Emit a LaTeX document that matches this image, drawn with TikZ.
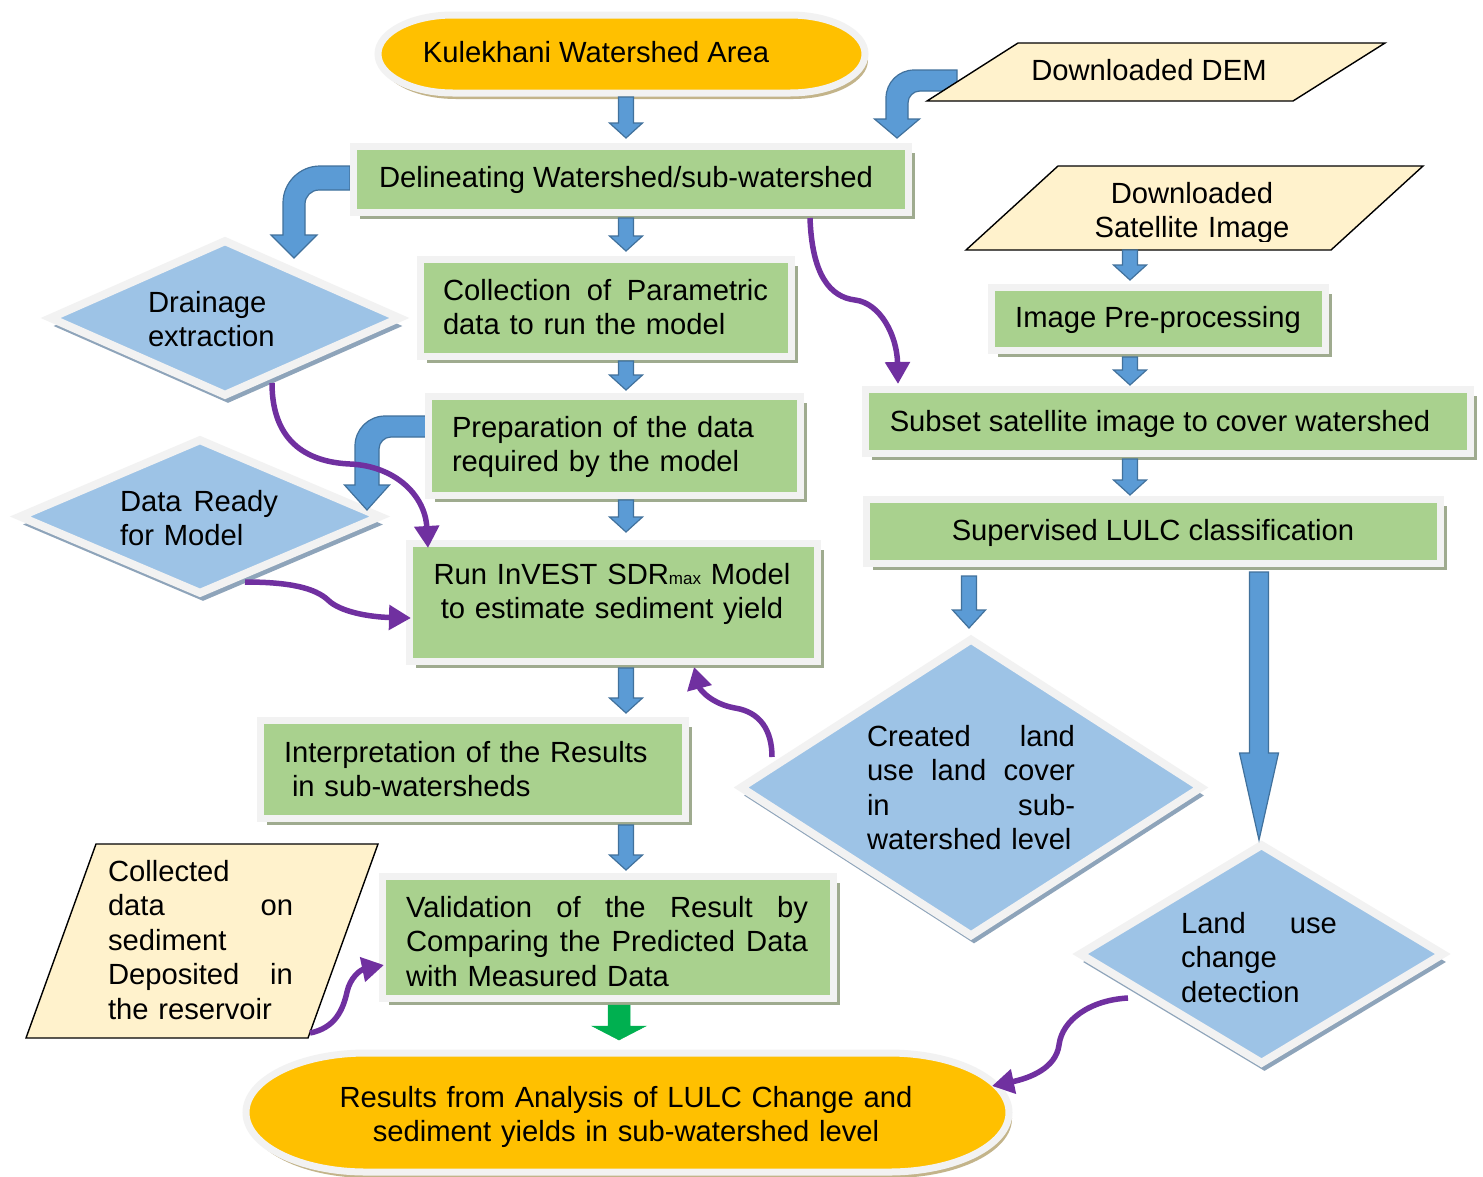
\documentclass[tikz,border=0pt]{standalone}
\usepackage{fontspec}
\setmainfont{Liberation Sans}
\usetikzlibrary{shapes.geometric,shadows,arrows.meta,calc}
\definecolor{gfill}{HTML}{A9D18E}
\definecolor{frm}{HTML}{F2F2F2}
\definecolor{gshd}{HTML}{9FAB8F}
\definecolor{bfill}{HTML}{9DC3E6}
\definecolor{bshd}{HTML}{8EA4BA}
\definecolor{ofill}{HTML}{FFC000}
\definecolor{oshd}{HTML}{C3B48A}
\definecolor{yfill}{HTML}{FFF2CC}
\definecolor{afill}{HTML}{5B9BD5}
\definecolor{adraw}{HTML}{41719C}
\definecolor{purp}{HTML}{7030A0}
\definecolor{gra}{HTML}{00B050}
\newcommand\vblock[6]{\filldraw[#6] let \p1=(#1), \p2=(#2) in
  (\x1-#3pt,\y1) -- (\x1-#3pt,\y2+#5pt) -- (\x1-#4pt,\y2+#5pt) -- (\x1,\y2)
  -- (\x1+#4pt,\y2+#5pt) -- (\x1+#3pt,\y2+#5pt) -- (\x1+#3pt,\y1) -- cycle;}
\newcommand\jline[2]{\leavevmode\hbox to #1pt{#2}}
\begin{document}
\begin{tikzpicture}[x=1pt,y=-1pt,
  gbox/.style={rectangle, fill=gfill, draw=frm, line width=7pt, inner sep=0pt,
    drop shadow={shadow xshift=6pt, shadow yshift=-6pt, fill=gshd, opacity=1}},
  dmd/.style={diamond, fill=bfill, draw=frm, line width=8pt, inner sep=0pt,
    drop shadow={shadow xshift=3pt, shadow yshift=-8pt, fill=bshd, opacity=1}},
  stad/.style={fill=ofill, draw=frm, line width=7pt,
    drop shadow={shadow xshift=3pt, shadow yshift=-6pt, fill=oshd, opacity=1}},
  para/.style={fill=yfill, draw=black, line width=1.4pt, line join=miter},
  barrow/.style={fill=afill, draw=adraw, line width=1.2pt, line join=miter},
  garrow/.style={fill=gra, draw=gra, line width=0.5pt},
  parrow/.style={draw=purp, line width=5.5pt, -{Triangle[length=22pt,width=24pt]}},
  txt/.style={inner sep=0pt, outer sep=0pt, font=\fontsize{29.2pt}{34.5pt}\selectfont, text=black}]
\useasboundingbox[fill=white] (0,0) rectangle (1483,1176);

% ---------- diamonds ----------
\node[dmd, minimum width=352pt, minimum height=157pt] (drain) at (225,318) {};
\node[dmd, minimum width=363pt, minimum height=156pt] (ready) at (200,516.5) {};
\node[dmd, minimum width=463pt, minimum height=299pt] (created) at (971,787.5) {};
\node[dmd, minimum width=366pt, minimum height=221pt] (landuse) at (1261.5,954) {};

% ---------- bent block arrows ----------
\filldraw[barrow] (957,70) -- (886+28,70) .. controls (886+0.448*28,70) and (886,70+0.448*28) .. (886,70+28)
  -- (886,119) -- (897-22.5,119) -- (897,138) -- (897+22.5,119) -- (908,119)
  -- (908,91+12) .. controls (908,91+0.448*12) and (908+0.448*12,91) .. (908+12,91) -- (957,91) -- cycle;
\filldraw[barrow] (350,166) -- (283+37,166) .. controls (283+0.448*37,166) and (283,166+0.448*37) .. (283,166+37)
  -- (283,235) -- (294-23,235) -- (294,258) -- (294+23,235) -- (305,235)
  -- (305,190+14) .. controls (305,190+0.448*14) and (305+0.448*14,190) .. (305+14,190) -- (350,190) -- cycle;
\filldraw[barrow] (428,416) -- (355+30,416) .. controls (355+0.448*30,416) and (355,416+0.448*30) .. (355,416+30)
  -- (355,485) -- (367-22.5,485) -- (367,510) -- (367+22.5,485) -- (379,485)
  -- (379,437+12) .. controls (379,437+0.448*12) and (379+0.448*12,437) .. (379+12,437) -- (428,437) -- cycle;

% ---------- terminators ----------
\path[stad] (453,15) -- (790,15) arc[start angle=-90, end angle=90, x radius=75, y radius=39]
  -- (453,93) arc[start angle=90, end angle=270, x radius=75, y radius=39] -- cycle;
\path[stad] (366,1053) -- (889,1053) arc[start angle=-90, end angle=90, x radius=120, y radius=59.5]
  -- (366,1172) arc[start angle=90, end angle=270, x radius=120, y radius=59.5] -- cycle;

% ---------- parallelograms ----------
\draw[para] (927,101) -- (1018,43) -- (1385,43) -- (1293,101) -- cycle;
\draw[para] (966,250) -- (1058,166) -- (1423,166) -- (1331,250) -- cycle;
\draw[para] (26,1038) -- (96,844) -- (378,844) -- (308,1038) -- cycle;

% ---------- green boxes ----------
\node[gbox, minimum width=555pt, minimum height=66pt] (delin) at (631,179.5) {};
\node[gbox, minimum width=371pt, minimum height=97pt] (coll) at (606,308) {};
\node[gbox, minimum width=372pt, minimum height=99pt] (prep) at (614.5,446) {};
\node[gbox, minimum width=408pt, minimum height=118pt] (run) at (613.5,602.5) {};
\node[gbox, minimum width=425pt, minimum height=98pt] (interp) at (473,769.5) {};
\node[gbox, minimum width=451pt, minimum height=122pt] (valid) at (608,937.5) {};
\node[gbox, minimum width=334pt, minimum height=63pt] (imgpre) at (1158.5,319) {};
\node[gbox, minimum width=605pt, minimum height=64pt] (subset) at (1168,421.5) {};
\node[gbox, minimum width=574pt, minimum height=64pt] (superv) at (1153.5,531.5) {};

% ---------- straight block arrows ----------
\coordinate (a1s) at (626,97);   \coordinate (a1e) at (626,138);
\coordinate (a2s) at (626,218);  \coordinate (a2e) at (626,251);
\coordinate (a3s) at (626,361);  \coordinate (a3e) at (626,390);
\coordinate (a4s) at (626,500);  \coordinate (a4e) at (626,532);
\coordinate (a5s) at (626,668);  \coordinate (a5e) at (626,713);
\coordinate (a6s) at (626,825);  \coordinate (a6e) at (626,870);
\coordinate (a7s) at (1130,250); \coordinate (a7e) at (1130,280);
\coordinate (a8s) at (1130,357); \coordinate (a8e) at (1130,385);
\coordinate (a9s) at (1130,459); \coordinate (a9e) at (1130,495);
\coordinate (a10s) at (969,576); \coordinate (a10e) at (969,628);
\coordinate (a11s) at (1259,572); \coordinate (a11e) at (1259,840);
\coordinate (a12s) at (619,1005); \coordinate (a12e) at (619,1040);
\vblock{a1s}{a1e}{7.5}{16.5}{15}{barrow}
\vblock{a2s}{a2e}{7.5}{16.5}{15}{barrow}
\vblock{a3s}{a3e}{7.5}{16.5}{15}{barrow}
\vblock{a4s}{a4e}{7.5}{16.5}{15}{barrow}
\vblock{a5s}{a5e}{7.5}{16.5}{15}{barrow}
\vblock{a6s}{a6e}{7.5}{16.5}{15}{barrow}
\vblock{a7s}{a7e}{7.5}{16.5}{15}{barrow}
\vblock{a8s}{a8e}{7.5}{16.5}{15}{barrow}
\vblock{a9s}{a9e}{7.5}{16.5}{15}{barrow}
\vblock{a10s}{a10e}{7.5}{16.5}{18}{barrow}
\vblock{a11s}{a11e}{9.5}{19.5}{87}{barrow}
\vblock{a12s}{a12e}{11}{27}{14}{garrow}

% ---------- purple curved arrows ----------
\coordinate (p1s) at (810,218);  \coordinate (p1e) at (898,384);
\coordinate (p2s) at (272,383);  \coordinate (p2e) at (428,548);
\coordinate (p3s) at (245,582);  \coordinate (p3e) at (411,618);
\coordinate (p4s) at (772,757);  \coordinate (p4e) at (694,667);
\coordinate (p5s) at (1128,998); \coordinate (p5e) at (992,1086);
\coordinate (p6s) at (310,1033); \coordinate (p6e) at (384,965);
\draw[parrow] (p1s) .. controls (812,275) and (830,297) .. (855,300) .. controls (880,303) and (897,335) .. (p1e);
\draw[parrow] (p2s) .. controls (272,440) and (305,462) .. (350,464) .. controls (395,466) and (425,495) .. (p2e);
\draw[parrow] (p3s) .. controls (290,582) and (315,588) .. (328,600) .. controls (340,612) and (370,617) .. (p3e);
\draw[parrow] (p4s) .. controls (772,730) and (760,712) .. (735,708) .. controls (712,704) and (700,690) .. (p4e);
\draw[parrow] (p5s) .. controls (1090,1000) and (1062,1020) .. (1059,1045) .. controls (1056,1068) and (1030,1078) .. (p5e);
\draw[parrow] (p6s) .. controls (335,1028) and (343,1010) .. (347,992) .. controls (350,978) and (360,970) .. (p6e);

% ---------- texts ----------
\node[txt, anchor=base] (tkul) at (596,62) {Kulekhani Watershed Area};
\node[txt, anchor=base] (tdem) at (1149,80) {Downloaded DEM};
\begin{scope}
\clip (960,160) rectangle (1430,241);
\node[txt, anchor=base, text width=300pt, align=center] (tsat) at (1192,203) {Downloaded\\Satellite Image};
\end{scope}
\node[txt, anchor=base] (tdel) at (626,187) {Delineating Watershed/sub-watershed};
\node[txt, anchor=base west, text width=200pt, align=left] (tdrain) at (148,312) {Drainage\\extraction};
\node[txt, anchor=base west, text width=330pt, align=left] (tcoll) at (443,300) {\jline{325}{Collection\hfill of\hfill Parametric}\\data to run the model};
\node[txt, anchor=base] (timg) at (1158,327) {Image Pre-processing};
\node[txt, anchor=base west, text width=320pt, align=left] (tprep) at (452,437) {Preparation of the data\\required by the model};
\node[txt, anchor=base] (tsub) at (1160,431) {Subset satellite image to cover watershed};
\node[txt, anchor=base west, text width=165pt, align=left] (tready) at (120,511) {\jline{158}{Data\hfill Ready}\\for Model};
\node[txt, anchor=base, text width=400pt, align=center] (trun) at (612,584) {Run InVEST SDR{\fontsize{17pt}{17pt}\selectfont max} Model\\to estimate sediment yield};
\node[txt, anchor=base] (tsup) at (1153,540) {Supervised LULC classification};
\node[txt, anchor=base west, text width=400pt, align=left] (tint) at (284,762) {Interpretation of the Results\\\hspace*{8pt}in sub-watersheds};
\node[txt, anchor=base west, text width=215pt, align=left] (tcre) at (867,746) {\jline{208}{Created\hfill land}\\\jline{208}{use\hfill land\hfill cover}\\\jline{208}{in\hfill sub-}\\watershed level};
\node[txt, anchor=base west, text width=165pt, align=left] (tland) at (1181,933) {\jline{156}{Land\hfill use}\\change\\detection};
\node[txt, anchor=base west, text width=190pt, align=left] (tcol) at (108,881) {Collected\\\jline{185}{data\hfill on}\\sediment\\\jline{185}{Deposited\hfill in}\\the reservoir};
\node[txt, anchor=base west, text width=410pt, align=left] (tval) at (406,917) {\jline{402}{Validation\hfill of\hfill the\hfill Result\hfill by}\\\jline{402}{Comparing\hfill the\hfill Predicted\hfill Data}\\with Measured Data};
\node[txt, anchor=base, text width=700pt, align=center] (tres) at (626,1107) {Results from Analysis of LULC Change and\\sediment yields in sub-watershed level};
\end{tikzpicture}
\end{document}
